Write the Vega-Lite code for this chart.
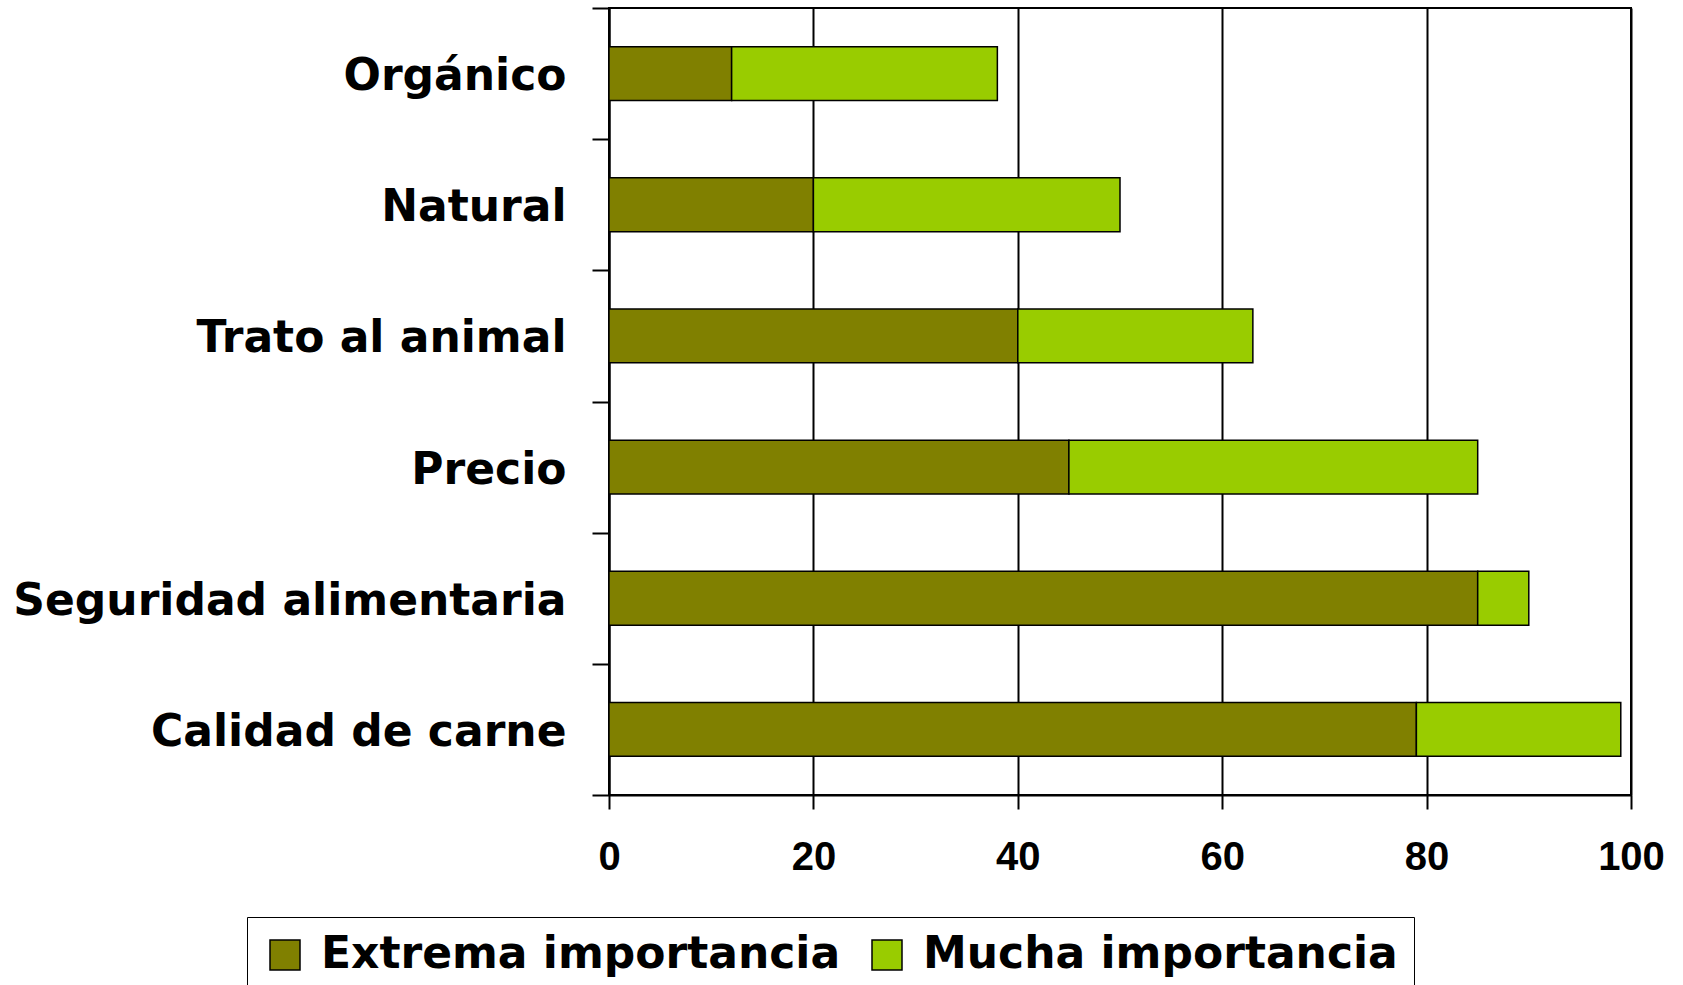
{
  "$schema": "https://vega.github.io/schema/vega-lite/v6.json",
  "width": 1022,
  "height": 787,
  "autosize": {"type": "none"},
  "padding": {"left": 609, "top": 8, "right": 52, "bottom": 190},
  "background": "white",
  "config": {"view": {"stroke": "black", "strokeWidth": 2}, "font": "DejaVu Sans"},
  "data": {
    "values": [
      {"attribute": "Orgánico", "level": "Extrema importancia", "value": 12},
      {"attribute": "Orgánico", "level": "Mucha importancia", "value": 26},
      {"attribute": "Natural", "level": "Extrema importancia", "value": 20},
      {"attribute": "Natural", "level": "Mucha importancia", "value": 30},
      {"attribute": "Trato al animal", "level": "Extrema importancia", "value": 40},
      {"attribute": "Trato al animal", "level": "Mucha importancia", "value": 23},
      {"attribute": "Precio", "level": "Extrema importancia", "value": 45},
      {"attribute": "Precio", "level": "Mucha importancia", "value": 40},
      {"attribute": "Seguridad alimentaria", "level": "Extrema importancia", "value": 85},
      {"attribute": "Seguridad alimentaria", "level": "Mucha importancia", "value": 5},
      {"attribute": "Calidad de carne", "level": "Extrema importancia", "value": 79},
      {"attribute": "Calidad de carne", "level": "Mucha importancia", "value": 20}
    ]
  },
  "mark": {"type": "bar", "height": {"band": 0.41}, "stroke": "black", "strokeWidth": 1.5},
  "encoding": {
    "y": {
      "field": "attribute",
      "type": "nominal",
      "sort": ["Orgánico", "Natural", "Trato al animal", "Precio", "Seguridad alimentaria", "Calidad de carne"],
      "scale": {"paddingInner": 0, "paddingOuter": 0},
      "axis": {
        "title": null,
        "grid": false,
        "domainColor": "black",
        "domainWidth": 2,
        "tickColor": "black",
        "tickWidth": 2,
        "tickSize": 17,
        "tickBand": "extent",
        "labelFont": "DejaVu Sans",
        "labelFontWeight": "bold",
        "labelFontSize": 44,
        "labelColor": "black",
        "labelPadding": 26,
        "labelOffset": 3,
        "labelLimit": 800
      }
    },
    "x": {
      "field": "value",
      "type": "quantitative",
      "stack": "zero",
      "scale": {"domain": [0, 100], "nice": false},
      "axis": {
        "title": null,
        "values": [0, 20, 40, 60, 80, 100],
        "grid": true,
        "gridColor": "black",
        "gridWidth": 2,
        "gridOpacity": 1,
        "domainColor": "black",
        "domainWidth": 2,
        "tickColor": "black",
        "tickWidth": 2,
        "tickSize": 14,
        "labelFont": "Liberation Sans",
        "labelFontWeight": "bold",
        "labelFontSize": 40,
        "labelColor": "black",
        "labelPadding": 28,
        "labelFlush": false,
        "labelOverlap": false
      }
    },
    "color": {
      "field": "level",
      "type": "nominal",
      "scale": {"domain": ["Extrema importancia", "Mucha importancia"], "range": ["#808000", "#99CC00"]},
      "legend": {
        "orient": "none",
        "legendX": -362,
        "legendY": 909,
        "direction": "horizontal",
        "title": null,
        "strokeColor": "black",
        "fillColor": "white",
        "padding": 16,
        "symbolType": "square",
        "symbolSize": 900,
        "symbolStrokeColor": "black",
        "symbolStrokeWidth": 1.5,
        "symbolOpacity": 1,
        "labelFont": "DejaVu Sans",
        "labelFontWeight": "bold",
        "labelFontSize": 44,
        "labelColor": "black",
        "labelOffset": 14,
        "columnPadding": 24,
        "labelLimit": 1000
      }
    }
  }
}
